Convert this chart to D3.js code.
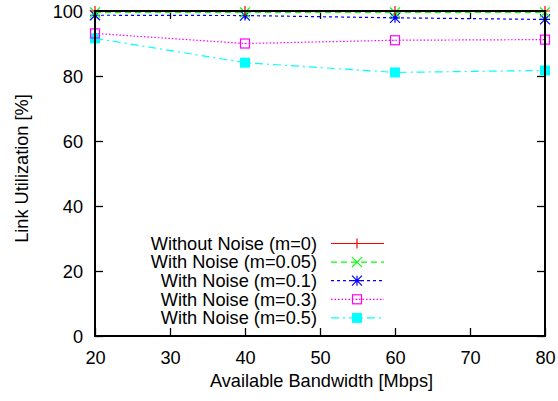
<!DOCTYPE html>
<html><head><meta charset="utf-8">
<script src="https://cdn.jsdelivr.net/npm/d3@7"></script>
<style>body{margin:0;background:#fff}text{font-family:"Liberation Sans",Arial,sans-serif;fill:#000}</style>
</head><body><svg id="c" width="558" height="401"></svg>
<script>
const xValues = [20, 40, 60, 80];
const xTicks = [20, 30, 40, 50, 60, 70, 80];
const yTicks = [0, 20, 40, 60, 80, 100];
const seriesNames = ["Without Noise (m=0)", "With Noise (m=0.05)", "With Noise (m=0.1)", "With Noise (m=0.3)", "With Noise (m=0.5)"];
const m0 = [100, 100, 100, 100];
const m005 = [99.6, 99.6, 99.6, 99.6];
const m01 = [98.7, 98.6, 97.9, 97.4];
const m03 = [93.1, 90.0, 91.0, 91.2];
const m05 = [91.6, 84.1, 81.1, 81.7];
const seriesValues = [m0, m005, m01, m03, m05];
const colors = ["#ff0000", "#00ff00", "#0000ff", "#ff00ff", "#00ffff"];
const dashes = [null, "6,4", "3,3", "1.5,2", "8,4,2,4"];
const markers = ["plus", "cross", "star", "box", "fbox"];

const FS = "18.2px";
const svg = d3.select("#c");
const L = 95, R = 545, T = 11, B = 336;
const x = d3.scaleLinear().domain([20, 80]).range([L, R]);
const y = d3.scaleLinear().domain([0, 100]).range([B, T]);

const gx = svg.append("g").attr("transform", `translate(0,${B})`)
  .call(d3.axisBottom(x).tickValues(xTicks).tickSize(-8).tickFormat(d3.format("d")));
const gxt = svg.append("g").attr("transform", `translate(0,${T})`)
  .call(d3.axisTop(x).tickValues(xTicks).tickSize(-8).tickFormat(""));
const gy = svg.append("g").attr("transform", `translate(${L},0)`)
  .call(d3.axisLeft(y).tickValues(yTicks).tickSize(-8).tickFormat(d3.format("d")));
const gyr = svg.append("g").attr("transform", `translate(${R},0)`)
  .call(d3.axisRight(y).tickValues(yTicks).tickSize(-8).tickFormat(""));
[gx, gxt, gy, gyr].forEach(g => {
  g.select(".domain").remove();
  g.selectAll(".tick line").attr("stroke", "#000").attr("stroke-width", 1.3);
  g.selectAll("text").style("font-size", FS).attr("fill", "#000");
});
gx.selectAll("text").attr("dy", "0.71em").attr("y", 15);
gy.selectAll("text").attr("x", -12).attr("dy", "0.35em");

svg.append("text").attr("x", 321.5).attr("y", 387).attr("text-anchor", "middle")
  .style("font-size", FS).text("Available Bandwidth [Mbps]");
svg.append("text").attr("transform", `translate(28,168.5) rotate(-90)`).attr("text-anchor", "middle")
  .style("font-size", FS).text("Link Utilization [%]");

function marker(g, type, cx, cy, color) {
  const s = 5;
  if (type === "plus") {
    g.append("path").attr("d", `M${cx - s},${cy}H${cx + s}M${cx},${cy - s}V${cy + s}`).attr("stroke", color).attr("stroke-width", 1.2);
  } else if (type === "cross") {
    g.append("path").attr("d", `M${cx - s},${cy - s}L${cx + s},${cy + s}M${cx - s},${cy + s}L${cx + s},${cy - s}`).attr("stroke", color).attr("stroke-width", 1.2);
  } else if (type === "star") {
    g.append("path").attr("d", `M${cx - s},${cy}H${cx + s}M${cx},${cy - s}V${cy + s}M${cx - s},${cy - s}L${cx + s},${cy + s}M${cx - s},${cy + s}L${cx + s},${cy - s}`).attr("stroke", color).attr("stroke-width", 1.2);
  } else if (type === "box") {
    g.append("rect").attr("x", cx - 4.5).attr("y", cy - 4.5).attr("width", 9).attr("height", 9).attr("fill", "none").attr("stroke", color).attr("stroke-width", 1.2);
    g.append("rect").attr("x", cx - 0.5).attr("y", cy - 0.5).attr("width", 1).attr("height", 1).attr("fill", color);
  } else {
    g.append("rect").attr("x", cx - 5).attr("y", cy - 5).attr("width", 10).attr("height", 10).attr("fill", color);
  }
}

const line = d3.line().x((d, i) => x(xValues[i])).y(d => y(d));
const plot = svg.append("g");
for (let k = seriesValues.length - 1; k >= 0; k--) {
  const g = plot.append("g");
  g.append("path").attr("d", line(seriesValues[k])).attr("fill", "none")
    .attr("stroke", colors[k]).attr("stroke-width", 1.2).attr("stroke-dasharray", dashes[k]);
  seriesValues[k].forEach((v, i) => marker(g, markers[k], x(xValues[i]), y(v), colors[k]));
}

const legTop = 243.5, legStep = 18.6;
seriesNames.forEach((n, k) => {
  const ly = legTop + k * legStep;
  svg.append("text").attr("x", 317).attr("y", ly).attr("dy", "0.35em").attr("text-anchor", "end")
    .style("font-size", FS).text(n);
  svg.append("line").attr("x1", 331).attr("x2", 384).attr("y1", ly).attr("y2", ly)
    .attr("stroke", colors[k]).attr("stroke-width", 1.2).attr("stroke-dasharray", dashes[k]);
  marker(svg.append("g"), markers[k], 357, ly, colors[k]);
});
svg.append("rect").attr("x", L).attr("y", T).attr("width", R - L).attr("height", B - T)
  .attr("fill", "none").attr("stroke", "#000").attr("stroke-width", 2);
</script></body></html>
